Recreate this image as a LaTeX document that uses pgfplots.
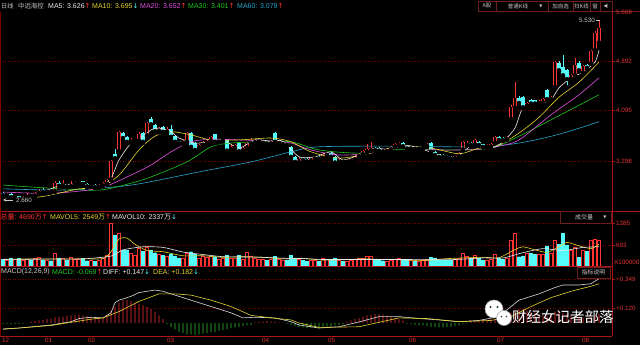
\documentclass[border=0pt]{standalone}
\usepackage{pgfplots}
\pgfplotsset{compat=1.18}
\usepackage{pgfplotstable}
\usepackage{fontspec}
\setmainfont{Liberation Sans}
\newfontfamily\cjk{Noto Sans CJK SC}
\newfontfamily\dv{DejaVu Sans}

\definecolor{upred}{RGB}{255,50,50}
\definecolor{dncyan}{RGB}{84,252,252}
\definecolor{maw}{RGB}{235,235,235}
\definecolor{may}{RGB}{228,212,50}
\definecolor{mam}{RGB}{225,80,225}
\definecolor{mag}{RGB}{30,200,30}
\definecolor{mat}{RGB}{40,165,205}
\definecolor{gridred}{RGB}{125,0,0}
\definecolor{axred}{RGB}{170,20,20}
\definecolor{lblred}{RGB}{230,50,50}
\definecolor{txtgray}{RGB}{200,200,200}
\definecolor{macdgreen}{RGB}{40,200,40}
\definecolor{boxline}{RGB}{110,30,30}

% up candles: index, open, close, high, low, volume (x100000)
\pgfplotstableread[row sep=\\]{
i o c h l v\\
1 2.74 2.77 2.79 2.72 180\\ 3 2.71 2.73 2.75 2.69 200\\ 5 2.69 2.72 2.74 2.68 170\\
6 2.72 2.76 2.78 2.71 210\\ 8 2.74 2.78 2.80 2.73 230\\ 9 2.78 2.82 2.85 2.77 280\\
11 2.80 2.83 2.85 2.78 190\\ 13 2.81 2.95 2.97 2.80 420\\ 15 2.90 2.92 2.99 2.88 230\\
17 2.89 2.93 2.98 2.88 290\\ 18 2.93 2.95 2.97 2.91 210\\ 19 2.95 2.96 2.99 2.93 200\\
22 2.89 2.91 2.93 2.88 180\\ 24 2.88 2.90 2.92 2.87 190\\ 25 2.90 2.93 2.96 2.89 230\\
26 2.93 2.99 3.00 2.92 350\\ 27 3.00 3.30 3.31 2.99 1380\\ 29 3.45 3.76 3.78 3.44 1060\\
32 3.60 3.63 3.66 3.58 420\\ 33 3.62 3.64 3.66 3.60 330\\ 34 3.62 3.73 3.76 3.60 560\\
36 3.70 3.90 3.92 3.68 600\\ 39 3.77 3.82 3.84 3.75 380\\ 41 3.76 3.80 3.83 3.74 300\\
45 3.58 3.61 3.63 3.57 240\\ 46 3.60 3.74 3.76 3.58 420\\ 49 3.50 3.55 3.57 3.48 260\\
50 3.55 3.60 3.62 3.54 300\\ 51 3.58 3.62 3.64 3.57 280\\ 52 3.61 3.68 3.70 3.60 320\\
54 3.60 3.63 3.65 3.59 220\\ 55 3.62 3.64 3.66 3.61 240\\ 57 3.48 3.52 3.55 3.46 250\\
58 3.50 3.55 3.57 3.49 260\\ 60 3.46 3.50 3.51 3.44 200\\ 61 3.50 3.58 3.60 3.49 450\\
62 3.57 3.60 3.66 3.56 300\\ 63 3.59 3.61 3.64 3.58 240\\ 64 3.60 3.62 3.63 3.58 220\\
65 3.58 3.60 3.62 3.57 200\\ 67 3.57 3.61 3.63 3.56 210\\ 69 3.58 3.60 3.62 3.57 200\\
70 3.56 3.59 3.60 3.55 180\\ 74 3.27 3.33 3.35 3.26 200\\ 77 3.29 3.34 3.36 3.28 170\\
78 3.33 3.35 3.37 3.31 180\\ 80 3.34 3.40 3.42 3.33 230\\ 81 3.39 3.41 3.43 3.38 200\\
84 3.27 3.30 3.32 3.26 180\\ 86 3.28 3.30 3.32 3.27 150\\ 87 3.29 3.32 3.33 3.28 170\\
88 3.32 3.37 3.39 3.31 210\\ 89 3.37 3.40 3.42 3.36 230\\ 90 3.40 3.45 3.47 3.39 250\\
91 3.44 3.48 3.56 3.43 300\\ 92 3.46 3.50 3.60 3.45 320\\ 96 3.45 3.48 3.50 3.44 160\\
97 3.48 3.52 3.54 3.47 190\\ 98 3.52 3.56 3.58 3.51 220\\ 99 3.55 3.58 3.60 3.54 240\\
102 3.49 3.52 3.53 3.47 170\\ 104 3.49 3.51 3.52 3.48 150\\ 105 3.50 3.53 3.54 3.49 180\\
106 3.53 3.56 3.58 3.52 200\\ 113 3.33 3.37 3.38 3.32 200\\ 114 3.37 3.42 3.44 3.36 230\\
115 3.47 3.60 3.62 3.46 420\\ 116 3.55 3.58 3.62 3.54 300\\ 118 3.55 3.63 3.65 3.54 350\\
121 3.52 3.54 3.56 3.51 180\\ 122 3.52 3.56 3.58 3.51 210\\ 123 3.58 3.68 3.70 3.57 380\\
126 3.64 3.67 3.70 3.63 240\\ 127 3.96 4.15 4.18 3.90 840\\ 128 4.14 4.30 4.55 4.12 1060\\
131 4.17 4.22 4.24 4.15 420\\ 134 4.21 4.24 4.26 4.20 380\\ 135 4.22 4.28 4.30 4.21 360\\
137 4.28 4.31 4.33 4.27 400\\ 138 4.47 4.87 4.89 4.45 840\\ 142 4.60 4.66 4.68 4.58 500\\
143 4.66 4.82 4.94 4.65 600\\ 145 4.70 4.81 4.83 4.69 520\\ 147 4.85 5.05 5.07 4.84 840\\
148 5.06 5.33 5.36 5.04 860\\ 149 5.18 5.41 5.53 5.15 840\\
}\up

% down candles
\pgfplotstableread[row sep=\\]{
i o c h l v\\
0 2.78 2.75 2.80 2.73 220\\ 2 2.77 2.72 2.78 2.70 260\\ 4 2.73 2.69 2.74 2.66 240\\
7 2.76 2.74 2.78 2.72 190\\ 10 2.83 2.80 2.86 2.79 200\\ 12 2.83 2.81 2.85 2.79 170\\
14 2.94 2.90 2.97 2.88 260\\ 16 2.92 2.89 2.93 2.87 180\\ 20 2.97 2.93 2.98 2.92 240\\
21 2.93 2.89 2.94 2.87 170\\ 23 2.91 2.88 2.92 2.86 160\\ 28 3.40 3.34 3.48 3.28 1000\\
30 3.74 3.66 3.76 3.62 520\\ 31 3.68 3.60 3.70 3.57 510\\ 35 3.74 3.60 3.76 3.58 480\\
37 3.96 3.88 3.99 3.86 520\\ 38 3.87 3.77 3.88 3.75 430\\ 40 3.83 3.76 3.85 3.74 340\\
42 3.80 3.68 3.87 3.66 380\\ 43 3.69 3.60 3.70 3.58 330\\ 44 3.61 3.58 3.62 3.56 260\\
47 3.74 3.52 3.75 3.50 460\\ 48 3.58 3.47 3.60 3.45 380\\ 53 3.72 3.60 3.73 3.58 300\\
56 3.64 3.46 3.65 3.44 350\\ 59 3.58 3.45 3.59 3.43 340\\ 66 3.60 3.57 3.61 3.55 180\\
68 3.74 3.60 3.75 3.59 320\\ 71 3.58 3.55 3.59 3.54 200\\ 72 3.52 3.36 3.53 3.34 340\\
73 3.36 3.28 3.37 3.26 260\\ 75 3.34 3.31 3.35 3.29 180\\ 76 3.32 3.29 3.34 3.28 160\\
79 3.36 3.33 3.37 3.31 160\\ 82 3.42 3.36 3.43 3.35 210\\ 83 3.36 3.27 3.37 3.25 260\\
85 3.30 3.28 3.31 3.26 160\\ 93 3.50 3.47 3.52 3.45 200\\ 94 3.50 3.46 3.51 3.44 190\\
95 3.48 3.45 3.49 3.43 170\\ 100 3.58 3.53 3.59 3.52 200\\ 101 3.53 3.49 3.54 3.48 180\\
103 3.52 3.49 3.53 3.48 160\\ 107 3.58 3.44 3.60 3.43 280\\ 108 3.44 3.39 3.45 3.38 240\\
109 3.40 3.36 3.41 3.34 200\\ 110 3.39 3.36 3.41 3.35 190\\ 111 3.38 3.35 3.39 3.33 180\\
112 3.36 3.33 3.37 3.31 190\\ 117 3.58 3.55 3.60 3.53 240\\ 119 3.60 3.55 3.62 3.54 260\\
120 3.56 3.52 3.57 3.51 200\\ 124 3.68 3.63 3.70 3.62 260\\ 125 3.66 3.63 3.67 3.61 220\\
129 4.30 4.22 4.33 4.18 300\\ 130 4.31 4.15 4.33 4.13 330\\ 132 4.26 4.21 4.28 4.19 400\\
133 4.26 4.21 4.27 4.19 380\\ 136 4.42 4.28 4.44 4.26 650\\ 139 4.86 4.74 4.88 4.72 700\\
140 4.80 4.66 4.98 4.64 1060\\ 141 4.74 4.60 4.76 4.47 680\\ 144 4.86 4.74 4.88 4.72 290\\
146 4.82 4.78 4.84 4.75 480\\
}\dn

% MACD histogram
\pgfplotstableread[row sep=\\]{
i m\\
0 -0.010\\ 1 -0.010\\ 2 -0.012\\ 3 -0.010\\ 4 -0.008\\ 5 -0.006\\ 6 -0.004\\
7 0.010\\ 8 0.015\\ 9 0.020\\ 10 0.025\\ 11 0.030\\ 12 0.035\\ 13 0.045\\ 14 0.050\\ 15 0.050\\
16 0.055\\ 17 0.060\\ 18 0.060\\ 19 0.065\\ 20 0.060\\ 21 0.055\\ 22 0.050\\ 23 0.045\\ 24 0.040\\
25 0.040\\ 26 0.060\\ 27 0.100\\ 28 0.130\\ 29 0.160\\ 30 0.180\\ 31 0.180\\ 32 0.170\\ 33 0.160\\
34 0.150\\ 35 0.140\\ 36 0.130\\ 37 0.110\\ 38 0.090\\ 39 0.060\\ 40 0.030\\
41 -0.010\\ 42 -0.030\\ 43 -0.050\\ 44 -0.070\\ 45 -0.080\\ 46 -0.090\\ 47 -0.090\\ 48 -0.095\\
49 -0.090\\ 50 -0.085\\ 51 -0.080\\ 52 -0.075\\ 53 -0.070\\ 54 -0.060\\ 55 -0.055\\ 56 -0.050\\
57 -0.040\\ 58 -0.035\\ 59 -0.030\\ 60 -0.025\\ 61 -0.020\\ 62 -0.015\\
63 0.005\\ 64 0.010\\ 65 0.010\\ 66 0.015\\ 67 0.010\\ 68 0.010\\ 69 0.005\\ 70 0.003\\
71 -0.005\\ 72 -0.015\\ 73 -0.025\\ 74 -0.030\\ 75 -0.035\\ 76 -0.040\\ 77 -0.040\\ 78 -0.035\\
79 -0.030\\ 80 -0.030\\ 81 -0.025\\ 82 -0.025\\ 83 -0.020\\ 84 -0.015\\ 85 -0.010\\
86 0.010\\ 87 0.020\\ 88 0.030\\ 89 0.040\\ 90 0.050\\ 91 0.060\\ 92 0.065\\ 93 0.070\\ 94 0.070\\
95 0.065\\ 96 0.060\\ 97 0.050\\ 98 0.040\\ 99 0.030\\ 100 0.020\\
101 -0.005\\ 102 -0.010\\ 103 -0.015\\ 104 -0.020\\ 105 -0.020\\ 106 -0.025\\ 107 -0.030\\ 108 -0.030\\
109 -0.035\\ 110 -0.035\\ 111 -0.030\\ 112 -0.030\\ 113 -0.025\\ 114 -0.020\\ 115 -0.010\\ 116 -0.005\\
117 0.010\\ 118 0.015\\ 119 0.020\\ 120 0.020\\ 121 0.025\\ 122 0.030\\ 123 0.030\\ 124 0.035\\ 125 0.040\\
126 0.050\\ 127 0.080\\ 128 0.100\\ 129 0.110\\ 130 0.110\\ 131 0.100\\ 132 0.090\\ 133 0.080\\
134 0.070\\ 135 0.060\\ 136 0.060\\ 137 0.070\\ 138 0.090\\ 139 0.090\\ 140 0.080\\ 141 0.070\\
142 0.060\\ 143 0.050\\ 144 0.050\\ 145 0.040\\ 146 0.040\\ 147 0.050\\ 148 0.060\\ 149 0.070\\
}\macd

\begin{document}
\begin{tikzpicture}[x=1pt,y=1pt]
\useasboundingbox (0,0) rectangle (640,345);
\fill[black] (0,0) rectangle (640,345);

% ---------- grid lines and frame ----------
\foreach \yy in {283.3,234.3,183.7,122,100,66,37}{
  \draw[gridred, line width=0.4pt, dash pattern=on 1pt off 1.5pt] (0,\yy) -- (612,\yy);
}
\draw[axred, line width=0.6pt] (0,134) -- (640,134);
\draw[axred, line width=0.6pt] (0,79) -- (612,79);
\draw[axred, line width=0.6pt] (0,9) -- (612,9);
\draw[axred, line width=0.6pt] (612,9) -- (612,334);
\draw[gridred, line width=0.5pt] (0.3,9) -- (0.3,333);
\draw[boxline, line width=0.5pt] (478,333.5) -- (640,333.5);

% ---------- price panel ----------
\begin{axis}[at={(0pt,135pt)}, anchor=south west, scale only axis,
  width=612pt, height=198pt, xmin=-0.75, xmax=152.25, ymin=2.513, ymax=5.669,
  hide axis]
% wicks
\addplot[only marks, mark=none, forget plot, error bars/.cd, y dir=plus, y explicit,
  error mark=none, error bar style={color=dncyan, line width=0.75pt}]
  table[x=i, y=l, y error expr=\thisrow{h}-\thisrow{l}] {\dn};
\addplot[only marks, mark=none, forget plot, error bars/.cd, y dir=plus, y explicit,
  error mark=none, error bar style={color=upred, line width=0.75pt}]
  table[x=i, y=l, y error expr=\thisrow{h}-\thisrow{l}] {\up};
% bodies
\addplot[only marks, mark=none, forget plot, error bars/.cd, y dir=plus, y explicit,
  error mark=none, error bar style={color=dncyan, line width=3.1pt}]
  table[x=i, y=c, y error expr=\thisrow{o}-\thisrow{c}] {\dn};
\addplot[only marks, mark=none, forget plot, error bars/.cd, y dir=plus, y explicit,
  error mark=none, error bar style={color=upred, line width=3.3pt}]
  table[x=i, y=o, y error expr=\thisrow{c}-\thisrow{o}] {\up};
\addplot[only marks, mark=none, forget plot, error bars/.cd, y dir=plus, y explicit,
  error mark=none, error bar style={color=black, line width=1.1pt}]
  table[x=i, y=o, y error expr=\thisrow{c}-\thisrow{o}] {\up};
% moving averages
\addplot[mat, line width=0.6pt, smooth, tension=0.5] coordinates {(0,2.85)(14,2.83)(24,2.86)(32,2.91)(39,2.99)(49,3.12)(62,3.28)(72,3.44)(79,3.52)(99,3.53)(119,3.52)(129,3.58)(139,3.72)(149,3.92)};
\addplot[mag, line width=0.6pt, smooth, tension=0.5] coordinates {(0,2.91)(12,2.86)(24,2.83)(32,2.94)(37,3.04)(46,3.28)(52,3.52)(57,3.58)(64,3.60)(72,3.60)(79,3.47)(89,3.42)(99,3.48)(112,3.47)(122,3.50)(129,3.69)(137,3.95)(149,4.35)};
\addplot[mam, line width=0.6pt, smooth, tension=0.5] coordinates {(0,2.80)(12,2.78)(24,2.86)(32,3.07)(37,3.23)(42,3.44)(47,3.60)(52,3.64)(59,3.63)(67,3.61)(72,3.58)(77,3.47)(84,3.39)(92,3.42)(99,3.52)(109,3.47)(119,3.48)(124,3.53)(129,3.63)(137,4.03)(144,4.35)(149,4.62)};
\addplot[may, line width=0.6pt, smooth, tension=0.5] coordinates {(0,2.72)(9,2.72)(19,2.85)(24,2.86)(29,3.07)(34,3.47)(38,3.69)(42,3.76)(47,3.71)(52,3.63)(59,3.63)(67,3.66)(72,3.60)(77,3.44)(84,3.34)(92,3.42)(99,3.53)(107,3.50)(114,3.41)(119,3.50)(124,3.55)(129,3.74)(134,3.99)(139,4.31)(144,4.55)(149,4.87)};
\addplot[maw, line width=0.6pt, smooth, tension=0.4] coordinates {(0,2.72)(4,2.70)(9,2.77)(14,2.90)(19,2.93)(24,2.88)(27,3.02)(29,3.31)(32,3.58)(34,3.63)(37,3.79)(39,3.82)(42,3.76)(44,3.66)(48,3.58)(52,3.60)(55,3.63)(59,3.50)(63,3.63)(67,3.61)(70,3.61)(74,3.36)(78,3.36)(82,3.44)(85,3.31)(89,3.39)(93,3.50)(97,3.47)(100,3.55)(104,3.50)(109,3.39)(113,3.34)(117,3.53)(122,3.50)(125,3.60)(128,3.82)(130,4.14)(134,4.20)(137,4.27)(139,4.46)(142,4.62)(145,4.71)(148,4.87)(149,5.06)};
\end{axis}

% ---------- volume panel ----------
\begin{axis}[at={(0pt,79pt)}, anchor=south west, scale only axis,
  width=612pt, height=55pt, xmin=-0.75, xmax=152.25, ymin=0, ymax=1774,
  hide axis]
\addplot[ybar, bar width=2.8pt, bar shift=0pt, draw=dncyan, fill=dncyan, line width=0.3pt]
  table[x=i, y=v] {\dn};
\addplot[ybar, bar width=2.5pt, bar shift=0pt, draw=upred, fill=black, line width=0.75pt]
  table[x=i, y=v] {\up};
\addplot[may, line width=0.6pt, smooth, tension=0.4] coordinates {(0,220)(10,230)(20,230)(25,240)(27,460)(29,870)(31,900)(33,700)(36,500)(40,460)(45,330)(50,330)(55,280)(60,300)(65,280)(70,230)(75,240)(80,190)(85,200)(90,230)(95,210)(100,200)(105,170)(110,230)(115,260)(120,280)(124,270)(128,530)(130,620)(133,520)(136,440)(139,620)(141,760)(144,650)(147,560)(149,700)};
\addplot[maw, line width=0.6pt, smooth, tension=0.4] coordinates {(0,210)(10,220)(20,230)(27,320)(30,520)(35,620)(40,600)(45,450)(50,370)(55,300)(60,290)(65,280)(70,250)(75,240)(80,210)(90,210)(100,210)(110,200)(115,220)(120,260)(125,260)(130,430)(135,560)(140,500)(145,600)(149,620)};
\end{axis}

% ---------- MACD panel ----------
\begin{axis}[at={(0pt,9pt)}, anchor=south west, scale only axis,
  width=612pt, height=70pt, xmin=-0.75, xmax=152.25, ymin=-0.103, ymax=0.450,
  hide axis]
\addplot[ybar, bar width=0.7pt, bar shift=0pt, draw=none, fill=upred, restrict y to domain=0:1]
  table[x=i, y=m] {\macd};
\addplot[ybar, bar width=0.7pt, bar shift=0pt, draw=none, fill=macdgreen, restrict y to domain=-1:0]
  table[x=i, y=m] {\macd};
\addplot[maw!85!gray, line width=0.6pt] coordinates {(0,-0.047)(4,-0.04)(12,-0.016)(17,0.01)(19,0.035)(22,0.045)(25,0.04)(27,0.08)(28,0.16)(29,0.18)(32,0.21)(34,0.24)(38,0.26)(40,0.25)(43,0.22)(47,0.18)(52,0.13)(57,0.08)(60,0.04)(63,0.045)(68,0.04)(72,0.01)(74,-0.016)(79,-0.04)(84,-0.03)(89,0.008)(94,0.05)(99,0.05)(104,0.035)(109,0.024)(114,0.01)(119,0.02)(124,0.05)(127,0.13)(129,0.18)(134,0.23)(138,0.28)(140,0.30)(144,0.30)(147,0.31)(149,0.35)};
\addplot[may, line width=0.6pt] coordinates {(0,-0.05)(12,-0.02)(22,0.03)(25,0.04)(29,0.09)(34,0.17)(39,0.23)(43,0.23)(47,0.22)(52,0.18)(57,0.13)(62,0.06)(67,0.04)(72,0.024)(74,0.0)(79,-0.035)(89,-0.03)(99,0.04)(106,0.035)(114,0.01)(122,0.02)(127,0.05)(132,0.13)(137,0.2)(142,0.25)(147,0.29)(149,0.31)};
\end{axis}

% ---------- header texts ----------
\begin{scope}[every node/.style={inner sep=0pt, anchor=west, font=\fontsize{7}{8}\selectfont}]
\node[font=\fontsize{6.2}{7}\selectfont] at (1,339) {\cjk\color{txtgray}日线};
\node[font=\fontsize{6.4}{7}\selectfont] at (18,339) {\cjk\color{txtgray}中远海控};
\node at (48,339) {\color{maw}MA5: 3.626{\dv\color{upred}↑}};
\node at (92,339) {\color{may}MA10: 3.695{\dv\color{dncyan}↓}};
\node at (140,339) {\color{mam}MA20: 3.652{\dv\color{upred}↑}};
\node at (188,339) {\color{mag}MA30: 3.401{\dv\color{upred}↑}};
\node at (237,339) {\color{mat}MA60: 3.079{\dv\color{upred}↑}};

\node at (0.5,128) {\color{upred}{\cjk 总量}: 4690{\cjk 万}{\dv↑}};
\node at (50,128) {\color{may}MAVOL5: 2549{\cjk 万}{\dv\color{upred}↑}};
\node at (112,128) {\color{maw}MAVOL10: 2337{\cjk 万}{\dv\color{dncyan}↓}};

\node at (1,73) {\color{txtgray}MACD(12,26,9)};
\node at (52,73) {\color{macdgreen}MACD: -0.069{\dv\color{upred}↑}};
\node at (103,73) {\color{maw}DIFF: +0.147{\dv\color{dncyan}↓}};
\node at (153,73) {\color{may}DEA: +0.182{\dv\color{dncyan}↓}};
\end{scope}

% ---------- top-right buttons ----------
\draw[boxline, line width=0.5pt] (478,334) rectangle (612,344);
\foreach \xx in {496,548,573,590,600}{\draw[boxline, line width=0.5pt] (\xx,334) -- (\xx,344);}
\begin{scope}[every node/.style={inner sep=0pt, font=\fontsize{5.5}{6}\selectfont, text=txtgray}]
\node at (487,339) {\cjk A股};
\node at (518,339) {\cjk 普通K线};
\node at (541,339) {\dv\fontsize{4}{4}\selectfont ▼};
\node at (560.5,339) {\cjk 加自选};
\node at (581.5,339) {\cjk 扫K线};
\node at (595,339) {\cjk 窗};
\node at (606,339) {\dv\fontsize{4.5}{5}\selectfont ◀|};
\end{scope}

% ---------- right axis labels ----------
\begin{scope}[every node/.style={inner sep=0pt, anchor=west, font=\fontsize{6.3}{7}\selectfont, text=lblred}]
\node at (616,333) {5.669};
\foreach \yy/\tt in {283.3/4.892,234.3/4.095,183.7/3.298,122/1385,100/693,66/+0.349,37/+0.120}{
  \draw[axred, line width=0.5pt] (612,\yy) -- (615,\yy);
  \node at (616,\yy) {\tt};
}
\node at (614,82.5) {X100000};
\end{scope}

% ---------- volume selector / indicator boxes ----------
\draw[boxline, line width=0.5pt] (560,122) rectangle (611,133.5);
\node[inner sep=0pt, font=\fontsize{6}{7}\selectfont, text=txtgray] at (584,127.8) {\cjk 成交量};
\node[inner sep=0pt, font=\fontsize{4}{4}\selectfont, text=txtgray] at (605,127.8) {\dv ▼};
\draw[boxline, line width=0.5pt] (577,67) rectangle (610,78);
\node[inner sep=0pt, font=\fontsize{5.8}{7}\selectfont, text=txtgray] at (593.5,72.5) {\cjk 指标说明};

% ---------- extreme value annotations ----------
\node[inner sep=0pt, anchor=east, font=\fontsize{6.3}{7}\selectfont, text=txtgray] at (595,324.5) {5.530};
\draw[txtgray, line width=0.5pt] (596,324.5) -- (600,324.5);
\draw[txtgray, line width=0.5pt, ->, >=stealth] (13,145) -- (3,145);
\node[inner sep=0pt, anchor=west, font=\fontsize{6.3}{7}\selectfont, text=txtgray] at (16,145) {2.660};

% ---------- month labels ----------
\begin{scope}[every node/.style={inner sep=0pt, anchor=west, font=\fontsize{6.3}{7}\selectfont, text=lblred}]
\node at (2,4.5) {12};
\node at (45,4.5) {01};
\node at (88,4.5) {02};
\node at (167,4.5) {03};
\node at (262,4.5) {04};
\node at (328,4.5) {05};
\node at (409,4.5) {06};
\node at (497,4.5) {07};
\node at (582,4.5) {08};
\end{scope}

% ---------- watermark ----------
\fill[white, draw=gray!70, line width=0.5pt] (494,36) circle (9);
\fill[black!80] (490.5,38) circle (1.1);
\fill[black!80] (497.5,38) circle (1.1);
\fill[white, draw=gray!70, line width=0.5pt] (504,27) circle (7.5);
\fill[black!80] (501.5,28.5) circle (0.9);
\fill[black!80] (506.5,28.5) circle (0.9);
\node[inner sep=0pt, anchor=west, font=\fontsize{14.5}{16}\selectfont, text=white] at (512,28.5) {\cjk 财经女记者部落};
\end{tikzpicture}
\end{document}
